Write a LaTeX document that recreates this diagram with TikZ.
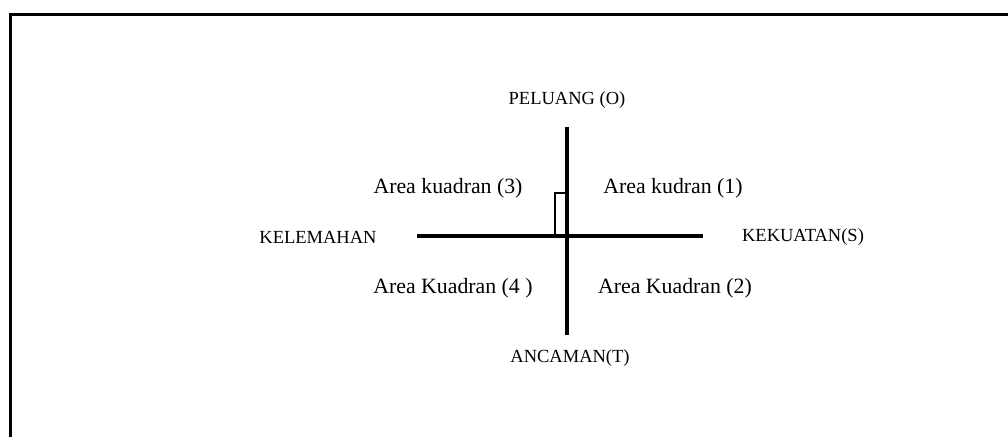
\documentclass[tikz,border=0pt]{standalone}
\usepackage{fontspec}
\setmainfont{Liberation Serif}
\begin{document}
\begin{tikzpicture}[x=1pt,y=-1pt,
  axisline/.style={line width=4.5pt},
  frameline/.style={line width=3pt},
  caplabel/.style={font=\fontsize{18.5}{20}\selectfont, inner sep=0pt},
  arealabel/.style={font=\fontsize{21.8}{23}\selectfont, inner sep=0pt}]
  \useasboundingbox (0,0) rectangle (1008,437);
  % open frame: top and left edges only
  \coordinate (fl) at (10,437);
  \coordinate (ftl) at (10,14);
  \coordinate (ftr) at (1008,14);
  \draw[frameline] (fl) -- (ftl) -- (ftr);
  % axes
  \coordinate (top) at (567,127);
  \coordinate (bot) at (567,335);
  \coordinate (lft) at (417,236);
  \coordinate (rgt) at (703,236);
  \coordinate (c) at (567,236);
  \draw[axisline] (top) -- (bot);
  \draw[axisline] (lft) -- (rgt);
  % small marker rectangle beside the vertical axis
  \coordinate (r1) at (555,193);
  \draw[line width=1.4pt] (c) -| (r1) -| (567,193);
  % axis labels
  \node[caplabel] (o) at (567,100) {PELUANG (O)};
  \node[caplabel] (t) at (570,358) {ANCAMAN(T)};
  \node[caplabel] (w) at (318,237) {KELEMAHAN};
  \node[caplabel] (s) at (803,237) {KEKUATAN(S)};
  % quadrant labels
  \node[arealabel] (q3) at (448,188) {Area kuadran (3)};
  \node[arealabel] (q1) at (673,188) {Area kudran (1)};
  \node[arealabel] (q4) at (453,288) {Area Kuadran (4 )};
  \node[arealabel] (q2) at (675,288) {Area Kuadran (2)};
\end{tikzpicture}
\end{document}
